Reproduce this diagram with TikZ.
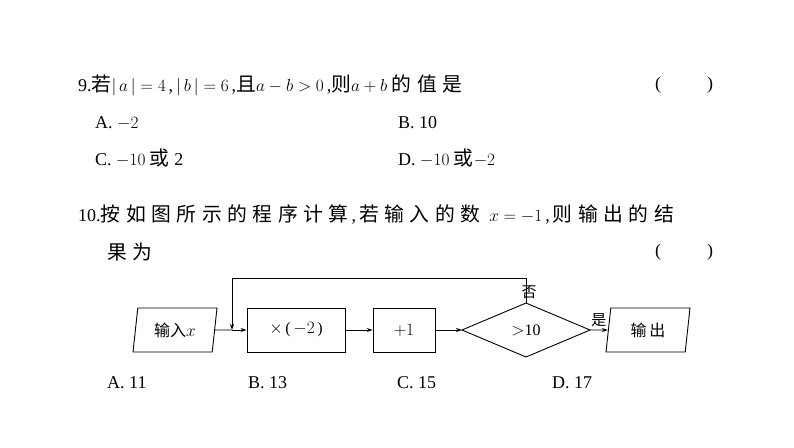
\documentclass[tikz,border=0pt]{standalone}
\usepackage{fontspec}
\setmainfont{Liberation Serif}
\newfontfamily\cjk{Noto Sans CJK SC}[Scale=1.1,LetterSpace=28]
\newfontfamily\cjkf{Noto Sans CJK SC}
\usetikzlibrary{shapes.geometric,arrows.meta}
\begin{document}
\begin{tikzpicture}[x=1pt,y=-1pt,
  txt/.style={anchor=west,inner sep=0pt,font=\fontsize{18}{20}\selectfont},
  fc/.style={draw,line width=0.9pt,minimum height=44pt,inner sep=0pt,font=\fontsize{16}{18}\selectfont},
  io/.style={fc,trapezium,trapezium left angle=72,trapezium right angle=108,minimum width=84pt,trapezium stretches body},
  arr/.style={-{Stealth[length=6pt,width=4pt]},line width=0.9pt}]
\path[fill=white] (0,0) rectangle (794,447);
\node[txt] (l1) at (78,85) {9.{\cjk 若}$|\,a\,|=4$\,,\,$|\,b\,|=6$\,,{\cjk 且}$a-b>0$\,,{\cjk 则}$a+b$ {\cjk 的值是}};
\node[txt] (p1) at (655,85) {(\hspace{46pt})};
\node[txt] (a9) at (95,123) {A. $-2$};
\node[txt] (b9) at (398,123) {B. 10};
\node[txt] (c9) at (95,158) {C. $-10$ {\cjk 或} 2};
\node[txt] (d9) at (398,158) {D. $-10$ {\cjk 或}$-2$};
\node[txt] (l4) at (78,215) {10.{\cjk 按如图所示的程序计算}\,,\,{\cjk 若输入的数} \ $x=-1$\,,\,{\cjk 则输出的结}};
\node[txt] (l5) at (107,252) {\cjk 果为};
\node[txt] (p2) at (655,252) {(\hspace{46pt})};
\node[io] (in) at (175,330) {{\cjkf 输入}$x$};
\node[fc,minimum width=98pt] (m2) at (296,330) {$\times$\,(\,$-2$\,)};
\node[fc,minimum width=62pt] (p1b) at (404,330) {$+1$};
\coordinate (dw) at (462,330);
\coordinate (de) at (590,330);
\coordinate (dn) at (526,303);
\coordinate (ds) at (526,357);
\draw[line width=0.9pt] (dw) -- (dn) -- (de) -- (ds) -- cycle;
\node[font=\fontsize{16}{18}\selectfont] (dm) at (526,330) {$>$10};
\node[io] (out) at (648,330) {\cjkf 输\,出};
\coordinate (j) at (232,330);
\coordinate (t1) at (526,278);
\coordinate (t2) at (232,278);
\draw[line width=0.9pt] (in) -- (j);
\draw[arr] (j) -- (m2);
\draw[arr] (m2) -- (p1b);
\draw[arr] (p1b) -- (dw);
\draw[arr] (de) -- (out) node[midway,above,font=\fontsize{15}{18}\selectfont\cjkf] (yes) {是};
\draw[arr] (dn) -- (t1) -- (t2) -- (j);
\node[font=\fontsize{15}{18}\selectfont\cjkf,anchor=west] (no) at (518,292) {否};
\node[txt] (oa) at (107,383) {A. 11};
\node[txt] (ob) at (248,383) {B. 13};
\node[txt] (oc) at (397,383) {C. 15};
\node[txt] (od) at (552,383) {D. 17};
\end{tikzpicture}
\end{document}
